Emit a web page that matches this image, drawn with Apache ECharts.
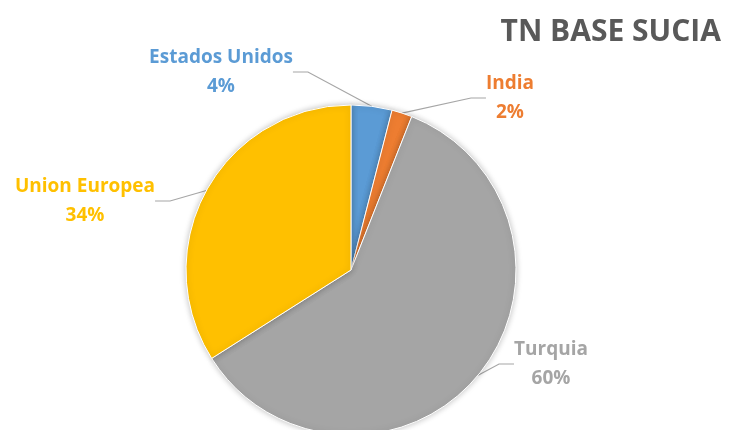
<!DOCTYPE html>
<html>
<head>
<meta charset="utf-8">
<script src="https://cdn.jsdelivr.net/npm/echarts@6/dist/echarts.min.js"></script>
<style>html,body{margin:0;padding:0;background:#fff;}#c{width:734px;height:430px;}</style>
</head>
<body>
<div id="c"></div>
<script>
var categories = ['Estados Unidos', 'India', 'Turquia', 'Union Europea'];
var values = [4, 2, 60, 34];
var colors = ['#5B9BD5', '#ED7D31', '#A5A5A5', '#FFC000'];
var titleText = 'TN BASE SUCIA';

var labelPos = [[221, 72], [510, 98], [85, 201], [551, 364]];
var labelIdx = {0: 0, 1: 1, 3: 2, 2: 3};

var chart = echarts.init(document.getElementById('c'));
chart.setOption({
  animation: false,
  title: {
    text: titleText, right: 8, top: 12,
    textStyle: {fontFamily: 'Open Sans', fontWeight: 'bold', fontSize: 30, color: '#595959'}
  },
  series: [{
    type: 'pie',
    center: [351, 270],
    radius: 165,
    startAngle: 90,
    clockwise: true,
    data: categories.map(function (c, i) {
      return {
        name: c, value: values[i],
        itemStyle: {color: colors[i]},
        label: {color: colors[i]}
      };
    }),
    itemStyle: {borderColor: '#fff', borderWidth: 1, shadowBlur: 6, shadowColor: 'rgba(0,0,0,0.25)'},
    label: {
      show: true,
      formatter: '{b}\n{d}%',
      fontFamily: 'Open Sans', fontWeight: 'bold', fontSize: 19, lineHeight: 29,
      align: 'center'
    },
    labelLine: {show: true, length: 20, length2: 15, lineStyle: {color: '#A6A6A6', width: 1.2}},
    labelLayout: function (p) {
      var pos = labelPos[labelIdx[p.dataIndex]];
      return {x: pos[0], y: pos[1], align: 'center', verticalAlign: 'middle'};
    }
  }]
});
</script>
</body>
</html>
